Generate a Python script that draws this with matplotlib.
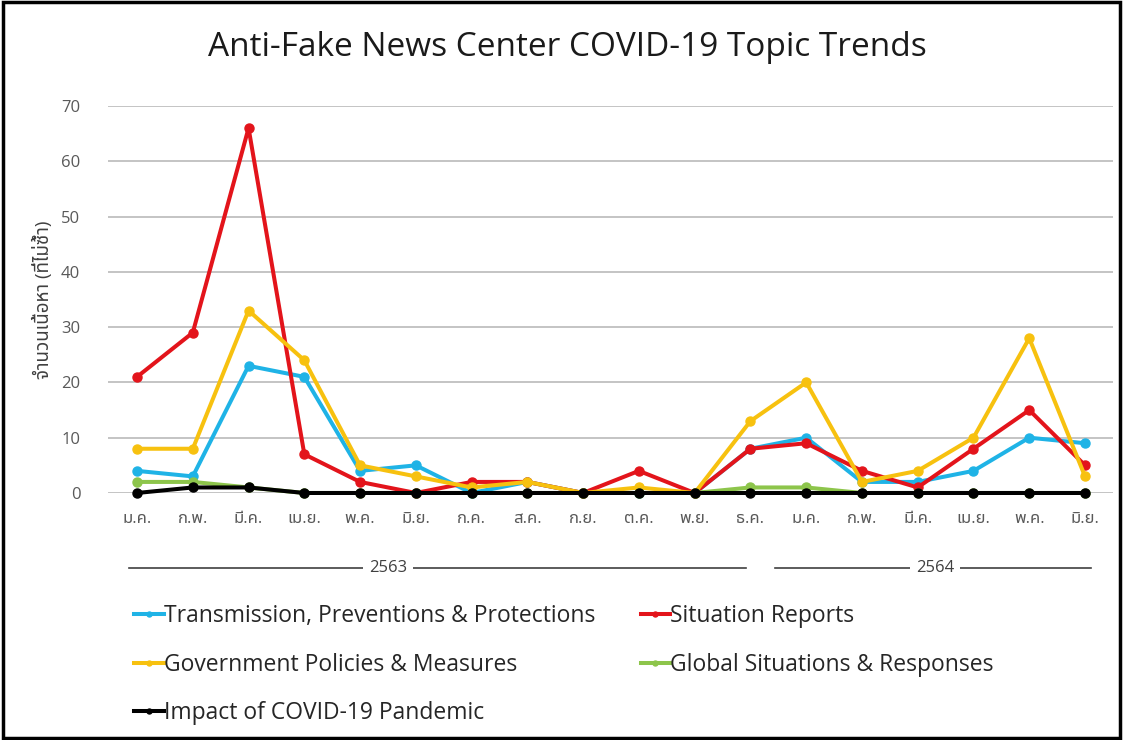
import matplotlib
matplotlib.use("Agg")
import matplotlib.pyplot as plt
from matplotlib.patches import Rectangle
import matplotlib.transforms as mtransforms

months = ["ม.ค.", "ก.พ.", "มี.ค.", "เม.ย.", "พ.ค.", "มิ.ย.", "ก.ค.", "ส.ค.", "ก.ย.",
          "ต.ค.", "พ.ย.", "ธ.ค.", "ม.ค.", "ก.พ.", "มี.ค.", "เม.ย.", "พ.ค.", "มิ.ย."]
transmission = [4, 3, 23, 21, 4, 5, 0, 2, 0, 0, 0, 8, 10, 2, 2, 4, 10, 9]
situation = [21, 29, 66, 7, 2, 0, 2, 2, 0, 4, 0, 8, 9, 4, 1, 8, 15, 5]
government = [8, 8, 33, 24, 5, 3, 1, 2, 0, 1, 0, 13, 20, 2, 4, 10, 28, 3]
global_sit = [2, 2, 1, 0, 0, 0, 0, 0, 0, 0, 0, 1, 1, 0, 0, 0, 0, 0]
impact = [0, 1, 1, 0, 0, 0, 0, 0, 0, 0, 0, 0, 0, 0, 0, 0, 0, 0]
years = ["2563", "2564"]

plt.rcParams["font.family"] = ["Open Sans", "Noto Sans Thai", "DejaVu Sans"]

fig = plt.figure(figsize=(11.23, 7.40), dpi=100)
ax = fig.add_axes([0.0962, 0.3338, 0.8948, 0.523])

x = list(range(len(months)))
series = [
    (transmission, "#1FB3E6", "Transmission, Preventions & Protections"),
    (situation, "#E3141B", "Situation Reports"),
    (government, "#F7C10F", "Government Policies & Measures"),
    (global_sit, "#8DC54B", "Global Situations & Responses"),
    (impact, "#000000", "Impact of COVID-19 Pandemic"),
]
handles = []
for i, (vals, col, lab) in enumerate(series):
    h, = ax.plot(x, vals, color=col, lw=2.9, marker="o", ms=6.5, label=lab,
                 zorder=3 + i, clip_on=False)
    handles.append(h)

ax.set_xlim(-0.52, 17.5)
ax.set_ylim(0, 70)
ax.set_yticks(range(0, 71, 10))
ax.set_xticks(x)
ax.set_xticklabels(months, fontsize=13)
ax.tick_params(length=0, labelsize=12, labelcolor="#595959")
ax.tick_params(axis="x", pad=13)
ax.tick_params(axis="y", pad=20)
ax.grid(axis="y", color="#BFBFBF", lw=1.3)
for s in ax.spines.values():
    s.set_visible(False)
ax.set_ylabel("จำนวนเนื้อหา (ที่ไม่ซ้ำ)", fontsize=13.5, color="#404040", labelpad=6)

fig.text(0.505, 0.936, "Anti-Fake News Center COVID-19 Topic Trends", fontsize=24,
         color="#1a1a1a", ha="center", va="center")

# year brackets under the months
trans = mtransforms.blended_transform_factory(ax.transData, ax.transAxes)
for (x0, x1, xt), yr in zip([(-0.14, 10.92, 4.5), (11.44, 17.11, 14.31)], years):
    ax.plot([x0, x1], [-0.194, -0.194], transform=trans, color="#404040", lw=1.2, clip_on=False)
    ax.text(xt, -0.194, yr, transform=trans, ha="center", va="center", fontsize=12,
            color="#404040", bbox=dict(facecolor="white", edgecolor="none", pad=4))

leg_kw = dict(frameon=False, fontsize=16.5, handlelength=1.3, handletextpad=0.0,
              labelspacing=1.05, labelcolor="#262626", markerscale=0.55)
fig.legend([handles[0], handles[2], handles[4]],
           [series[0][2], series[2][2], series[4][2]],
           loc="upper left", bbox_to_anchor=(0.101, 0.211), **leg_kw)
fig.legend([handles[1], handles[3]], [series[1][2], series[3][2]],
           loc="upper left", bbox_to_anchor=(0.552, 0.211), **leg_kw)

fig.patches.append(Rectangle((0.003, 0.003), 0.994, 0.994, transform=fig.transFigure,
                             fill=False, edgecolor="black", lw=2.5))

fig.savefig("out.png", dpi=100)
